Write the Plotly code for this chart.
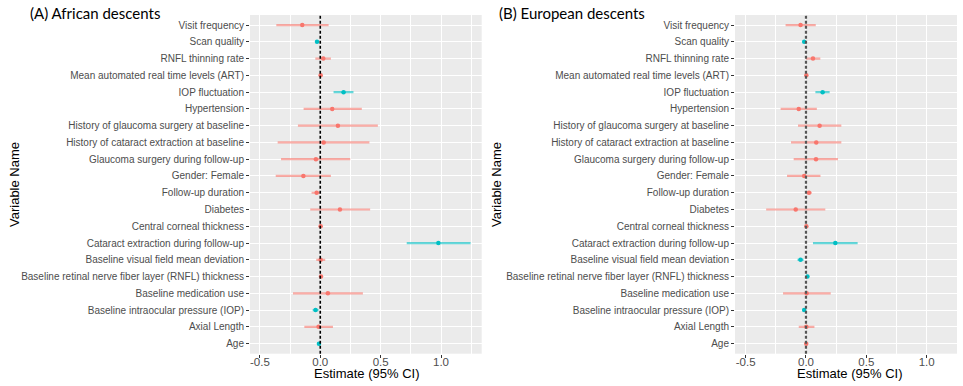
import plotly.graph_objects as go

variables = [
    "Visit frequency", "Scan quality", "RNFL thinning rate",
    "Mean automated real time levels (ART)", "IOP fluctuation", "Hypertension",
    "History of glaucoma surgery at baseline", "History of cataract extraction at baseline",
    "Glaucoma surgery during follow-up", "Gender: Female", "Follow-up duration",
    "Diabetes", "Central corneal thickness", "Cataract extraction during follow-up",
    "Baseline visual field mean deviation",
    "Baseline retinal nerve fiber layer (RNFL) thickness",
    "Baseline medication use", "Baseline intraocular pressure (IOP)",
    "Axial Length", "Age",
]

# (A) African descents
afr_est = [-0.149, -0.027, 0.025, 0.003, 0.193, 0.099, 0.146, 0.028, -0.036, -0.140,
           -0.030, 0.163, 0.003, 0.978, 0.003, 0.006, 0.063, -0.039, -0.014, -0.011]
afr_lo = [-0.364, -0.040, -0.041, -0.002, 0.110, -0.138, -0.185, -0.353, -0.325, -0.369,
          -0.072, -0.083, -0.002, 0.716, -0.033, -0.001, -0.226, -0.063, -0.132, -0.016]
afr_hi = [0.069, -0.015, 0.088, 0.008, 0.275, 0.344, 0.477, 0.407, 0.248, 0.088,
          0.002, 0.413, 0.008, 1.245, 0.041, 0.013, 0.353, -0.014, 0.105, -0.006]

# (B) European descents
eur_est = [-0.045, -0.015, 0.058, 0.003, 0.138, -0.060, 0.113, 0.085, 0.083, -0.015,
           0.025, -0.085, 0.003, 0.243, -0.045, 0.012, 0.005, -0.015, 0.003, 0.002]
eur_lo = [-0.169, -0.025, -0.002, -0.002, 0.078, -0.210, -0.066, -0.124, -0.102, -0.157,
          -0.002, -0.330, -0.002, 0.058, -0.070, 0.005, -0.190, -0.030, -0.060, -0.002]
eur_hi = [0.081, -0.005, 0.119, 0.008, 0.196, 0.090, 0.293, 0.293, 0.265, 0.120,
          0.048, 0.160, 0.008, 0.428, -0.020, 0.020, 0.205, -0.002, 0.070, 0.006]

x_ticks = [-0.5, 0.0, 0.5, 1.0]
x_ticktext = ["-0.5", "0.0", "0.5", "1.0"]

RED = "#F8766D"
TEAL = "#00BFC4"
RED_CI = "rgba(248,118,109,0.6)"
TEAL_CI = "rgba(0,191,196,0.6)"

W, H = 963, 386
fig = go.Figure()


def add_panel(est, lo, hi, xa, ya):
    groups = {"ns": ([], [], [], []), "sig": ([], [], [], [])}
    for v, e, l, h in zip(variables, est, lo, hi):
        g = "sig" if (l > 0 or h < 0) else "ns"
        groups[g][0].append(v)
        groups[g][1].append(e)
        groups[g][2].append(h - e)
        groups[g][3].append(e - l)
    for g, col, cic in (("ns", RED, RED_CI), ("sig", TEAL, TEAL_CI)):
        ys, xs, ep, em = groups[g]
        fig.add_trace(go.Scatter(
            x=xs, y=ys, mode="markers", xaxis=xa, yaxis=ya, showlegend=False,
            marker=dict(color=col, size=4.5),
            error_x=dict(type="data", symmetric=False, array=ep, arrayminus=em,
                         color=cic, thickness=2.2, width=0),
        ))


add_panel(afr_est, afr_lo, afr_hi, "x", "y")
add_panel(eur_est, eur_lo, eur_hi, "x2", "y2")

ydom = [1 - 353.7 / H, 1 - 15 / H]
tickfont = dict(family="Liberation Sans, Arial, sans-serif", size=10, color="#4D4D4D")

common_x = dict(tickvals=x_ticks, ticktext=x_ticktext, showgrid=True, gridcolor="white",
                gridwidth=1.1, zeroline=False, ticks="outside", ticklen=3,
                tickcolor="#333333", tickwidth=1, tickfont=dict(tickfont, size=11.5),
                ticklabelstandoff=-6, showline=False,
                minor=dict(tickvals=[-0.25, 0.25, 0.75, 1.25], showgrid=True,
                           gridcolor="white", gridwidth=0.5, ticks=""))
common_y = dict(type="category", categoryorder="array", categoryarray=variables[::-1],
                range=[-0.6, len(variables) - 0.4], showgrid=True, gridcolor="white",
                gridwidth=1.1, zeroline=False, ticks="outside", ticklen=3,
                tickcolor="#333333", tickwidth=1, tickfont=tickfont, showline=False)

fig.update_layout(
    width=W, height=H, margin=dict(l=0, r=0, t=0, b=0),
    paper_bgcolor="white", plot_bgcolor="#EBEBEB",
    xaxis=dict(common_x, domain=[250 / W, 481.7 / W], range=[-0.582, 1.337], anchor="y"),
    yaxis=dict(common_y, domain=ydom, anchor="x"),
    xaxis2=dict(common_x, domain=[735 / W, 957 / W], range=[-0.588, 1.251], anchor="y2"),
    yaxis2=dict(common_y, domain=ydom, anchor="x2"),
    shapes=[
        dict(type="line", xref="x", yref="paper", x0=0, x1=0, y0=ydom[0], y1=ydom[1],
             line=dict(color="black", width=1.6, dash="3px,2px"), layer="above"),
        dict(type="line", xref="x2", yref="paper", x0=0, x1=0, y0=ydom[0], y1=ydom[1],
             line=dict(color="#555555", width=2.2, dash="3px,2px"), layer="above"),
    ],
)

title_font = dict(family="Lato, Open Sans, sans-serif", size=15, color="black")
axis_title_font = dict(family="Liberation Sans, Arial, sans-serif", size=13, color="black")
annos = [
    dict(text="(A) African descents", x=28 / W, y=1 - 13 / H, xanchor="left", yanchor="middle",
         font=title_font),
    dict(text="(B) European descents", x=497 / W, y=1 - 13 / H, xanchor="left", yanchor="middle",
         font=title_font),
    dict(text="Variable Name", x=15 / W, y=1 - 185 / H, textangle=-90, xanchor="center",
         yanchor="middle", font=axis_title_font),
    dict(text="Variable Name", x=497 / W, y=1 - 185 / H, textangle=-90, xanchor="center",
         yanchor="middle", font=axis_title_font),
    dict(text="Estimate (95% CI)", x=366 / W, y=1 - 373 / H, xanchor="center",
         yanchor="middle", font=axis_title_font),
    dict(text="Estimate (95% CI)", x=849 / W, y=1 - 373 / H, xanchor="center",
         yanchor="middle", font=axis_title_font),
]
for a in annos:
    a.update(xref="paper", yref="paper", showarrow=False)
fig.update_layout(annotations=annos)

fig.write_html("out.html")
